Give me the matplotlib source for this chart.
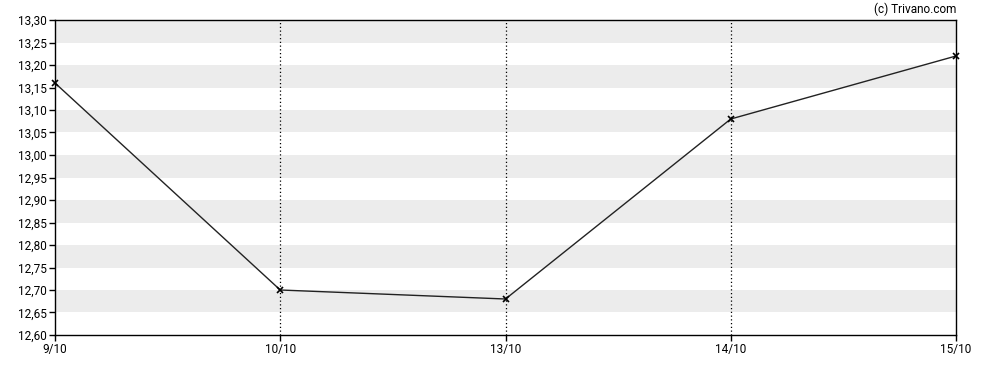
import matplotlib
matplotlib.use("Agg")
import matplotlib.pyplot as plt
import numpy as np

dates = ["9/10", "10/10", "13/10", "14/10", "15/10"]
prices = [13.16, 12.70, 12.68, 13.08, 13.22]
y_ticks = [12.60, 12.65, 12.70, 12.75, 12.80, 12.85, 12.90, 12.95,
           13.00, 13.05, 13.10, 13.15, 13.20, 13.25, 13.30]

plt.rcParams["font.family"] = ["Roboto", "DejaVu Sans"]

fig = plt.figure(figsize=(9.88, 3.70), dpi=100)
ax = fig.add_axes([55 / 988, 1 - 335 / 370, (956 - 55) / 988, (335 - 20) / 370])

x = np.arange(len(dates))

# alternating grey bands
for i in range(len(y_ticks) - 1):
    if i % 2 == 1:
        ax.axhspan(y_ticks[i], y_ticks[i + 1], color="#ececec", lw=0, zorder=0)

for xi in x[1:-1]:
    ax.axvline(xi, color="black", ls=(0, (1, 2)), lw=0.9, zorder=1)

ax.plot(x, prices, color="#222222", lw=1, marker="x", ms=4, mew=1.2,
        mec="black", zorder=3, clip_on=False)

ax.set_xlim(x[0], x[-1])
ax.set_ylim(y_ticks[0], y_ticks[-1])
ax.set_xticks(x)
ax.set_xticklabels(dates)
ax.set_yticks(y_ticks)
ax.set_yticklabels([f"{v:.2f}".replace(".", ",") for v in y_ticks])
ax.tick_params(labelsize=8.5, length=4, width=1, colors="black", pad=2)

for s in ax.spines.values():
    s.set_linewidth(1)

fig.text(956 / 988, 1 - 9 / 370, "(c) Trivano.com", ha="right", va="center", fontsize=8.5)

fig.savefig("out.png", dpi=100)
